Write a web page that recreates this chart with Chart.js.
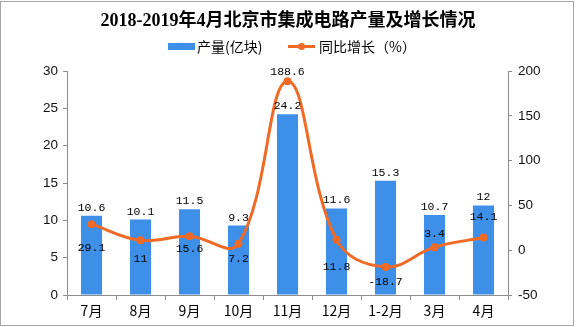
<!DOCTYPE html>
<html>
<head>
<meta charset="utf-8">
<script src="https://cdn.jsdelivr.net/npm/chart.js@4/dist/chart.umd.min.js"></script>
<style>
  html, body { margin: 0; padding: 0; background: #fff; }
  #wrap { position: relative; width: 576px; height: 327px; }
  #frame { position: absolute; left: 0; top: 1px; width: 572px; height: 323px; border: 1px solid #a6a6a6; pointer-events: none; }
  canvas { position: absolute; left: 0; top: 0; }
</style>
</head>
<body>
<div id="wrap">
  <canvas id="c" width="576" height="327"></canvas>
  <div id="frame"></div>
</div>
<script>
// Beijing integrated circuit output, Jul 2018 – Apr 2019
const categories = ['7月', '8月', '9月', '10月', '11月', '12月', '1-2月', '3月', '4月'];
const outputValues = [10.6, 10.1, 11.5, 9.3, 24.2, 11.6, 15.3, 10.7, 12];   // 亿块
const growthValues = [29.1, 11, 15.6, 7.2, 188.6, 11.8, -18.7, 3.4, 14.1];  // %
const leftTicks = [0, 5, 10, 15, 20, 25, 30];
const rightTicks = [-50, 0, 50, 100, 150, 200];

const titleText = '2018-2019年4月北京市集成电路产量及增长情况';
const barLabel = '产量(亿块)';
const lineLabel = '同比增长（%）';

const BLUE = '#3d8fe8';
const ORANGE = '#f06a26';
const AXIS = '#8c8c8c';

// vertical offsets of the growth labels relative to their points
const growthLabelDy = [24, 19, 13, 15, -9, 27, 15, -13, -21];

const headerPlugin = {
  id: 'header',
  afterDraw(chart) {
    const ctx = chart.ctx;
    ctx.save();
    ctx.fillStyle = '#000';
    ctx.textAlign = 'center';
    ctx.textBaseline = 'middle';
    ctx.font = 'bold 18px "Liberation Serif", "Noto Sans CJK SC", serif';
    ctx.fillText(titleText, 288, 21);

    // legend
    ctx.font = '14px "Noto Sans CJK SC", sans-serif';
    ctx.textAlign = 'left';
    ctx.fillStyle = BLUE;
    ctx.fillRect(168, 43, 27, 7);
    ctx.fillStyle = '#000';
    ctx.fillText(barLabel, 197, 47);
    ctx.strokeStyle = ORANGE;
    ctx.lineWidth = 3;
    ctx.beginPath();
    ctx.moveTo(288, 46.5);
    ctx.lineTo(315, 46.5);
    ctx.stroke();
    ctx.fillStyle = ORANGE;
    ctx.beginPath();
    ctx.arc(301.5, 46.5, 3.5, 0, Math.PI * 2);
    ctx.fill();
    ctx.fillStyle = '#000';
    ctx.fillText(lineLabel, 319, 47);
    ctx.restore();
  }
};

const valueLabelPlugin = {
  id: 'valueLabels',
  afterDatasetsDraw(chart) {
    const ctx = chart.ctx;
    ctx.save();
    ctx.fillStyle = '#000';
    ctx.textAlign = 'center';
    ctx.textBaseline = 'middle';
    ctx.font = '11.5px "Liberation Mono", "DejaVu Sans Mono", monospace';
    chart.getDatasetMeta(0).data.forEach((bar, i) => {
      ctx.fillText(String(outputValues[i]), bar.x, bar.y - 8);
    });
    chart.getDatasetMeta(1).data.forEach((pt, i) => {
      ctx.fillText(String(growthValues[i]), pt.x, pt.y + growthLabelDy[i]);
    });
    ctx.restore();
  }
};

new Chart(document.getElementById('c'), {
  data: {
    labels: categories,
    datasets: [
      {
        type: 'bar',
        label: barLabel,
        data: outputValues,
        backgroundColor: BLUE,
        yAxisID: 'y',
        barPercentage: 0.86,
        categoryPercentage: 0.5,
        order: 2
      },
      {
        type: 'line',
        label: lineLabel,
        data: growthValues,
        borderColor: ORANGE,
        backgroundColor: ORANGE,
        borderWidth: 3,
        pointRadius: 4,
        pointBorderWidth: 0,
        pointHoverRadius: 4,
        tension: 0.4,
        yAxisID: 'y1',
        clip: false,
        order: 1
      }
    ]
  },
  options: {
    responsive: false,
    animation: false,
    events: [],
    layout: { padding: { top: 71, left: 0, right: 0, bottom: 0 } },
    plugins: { legend: { display: false }, title: { display: false }, tooltip: { enabled: false } },
    scales: {
      x: {
        grid: { display: true, offset: true, drawOnChartArea: false, drawTicks: true, tickLength: 5, color: AXIS },
        border: { display: true, color: AXIS, width: 1 },
        ticks: { color: '#000', font: { family: '"Noto Sans CJK SC", sans-serif', size: 14 }, padding: 2, maxRotation: 0 },
        afterFit: s => { s.height = 32; }
      },
      y: {
        position: 'left',
        min: 0, max: 30,
        afterBuildTicks: s => { s.ticks = leftTicks.map(v => ({ value: v })); },
        grid: { display: true, drawOnChartArea: false, drawTicks: true, tickLength: 4, color: AXIS },
        border: { display: true, color: AXIS, width: 1 },
        ticks: { color: '#111', font: { family: '"Liberation Sans", Arial, sans-serif', size: 13.5 }, padding: 5 },
        afterFit: s => { s.width = 67; }
      },
      y1: {
        position: 'right',
        min: -50, max: 200,
        afterBuildTicks: s => { s.ticks = rightTicks.map(v => ({ value: v })); },
        grid: { display: true, drawOnChartArea: false, drawTicks: true, tickLength: 4, color: AXIS },
        border: { display: true, color: AXIS, width: 1 },
        ticks: { color: '#111', font: { family: '"Liberation Sans", Arial, sans-serif', size: 13.5 }, padding: 6 },
        afterFit: s => { s.width = 68; }
      }
    }
  },
  plugins: [headerPlugin, valueLabelPlugin]
});
</script>
</body>
</html>
